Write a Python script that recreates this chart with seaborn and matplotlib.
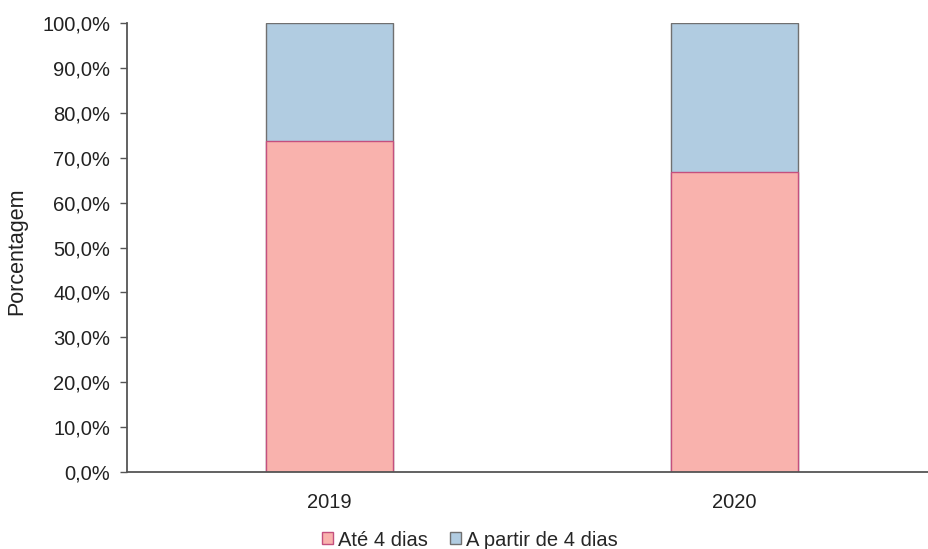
import matplotlib
matplotlib.use("Agg")
import matplotlib.pyplot as plt
import seaborn as sns
import pandas as pd
from matplotlib.patches import Patch
from matplotlib.ticker import FuncFormatter

anos = ["2019", "2020"]
ate_4_dias = [73.7, 66.8]
a_partir_4_dias = [26.3, 33.2]
series = ["Até 4 dias", "A partir de 4 dias"]

cor_ate = "#F9B2AD"
cor_apartir = "#B1CCE1"
borda_ate = "#C4507E"
borda_apartir = "#707070"

sns.set_theme(style="white")
plt.rcParams["font.family"] = ["Liberation Sans", "DejaVu Sans"]

df = pd.DataFrame({
    "ano": anos,
    "ate": ate_4_dias,
    "total": [a + b for a, b in zip(ate_4_dias, a_partir_4_dias)],
})

fig = plt.figure(figsize=(9.29, 5.49), dpi=100)
ax = fig.add_axes([127 / 929, 77 / 549, 810 / 929, 449 / 549])

sns.barplot(data=df, x="ano", y="total", color=cor_apartir, width=0.314,
            edgecolor=borda_apartir, linewidth=1.0, saturation=1, ax=ax)
sns.barplot(data=df, x="ano", y="ate", color=cor_ate, width=0.314,
            edgecolor=borda_ate, linewidth=1.0, saturation=1, ax=ax)

ax.set_xlim(-0.5, 1.5)
ax.set_ylim(0, 100)
ax.set_yticks(range(0, 101, 10))
ax.yaxis.set_major_formatter(FuncFormatter(lambda v, p: f"{v:.1f}%".replace(".", ",")))
ax.set_xlabel("")
ax.set_ylabel("Porcentagem", fontsize=15.5, color="#222222")
ax.yaxis.set_label_coords(-0.123, 0.492)

for s in ["top", "right"]:
    ax.spines[s].set_visible(False)
for s in ["left", "bottom"]:
    ax.spines[s].set_color("#555555")
    ax.spines[s].set_linewidth(1.3)

ax.tick_params(axis="y", which="major", left=True, length=5, width=1, color="#555555",
               labelsize=14.5, labelcolor="#222222", pad=7)
ax.tick_params(axis="x", bottom=False, labelsize=14.5, labelcolor="#222222", pad=9)

handles = [Patch(facecolor=cor_ate, edgecolor=borda_ate, label=series[0]),
           Patch(facecolor=cor_apartir, edgecolor=borda_apartir, label=series[1])]
fig.legend(handles=handles, loc="center", bbox_to_anchor=(470 / 929, 1 - 540 / 549),
           ncol=2, frameon=False, fontsize=14.5, handlelength=0.55, handleheight=0.55,
           handletextpad=0.25, columnspacing=1.1, borderaxespad=0)

fig.savefig("out.png", dpi=100)
